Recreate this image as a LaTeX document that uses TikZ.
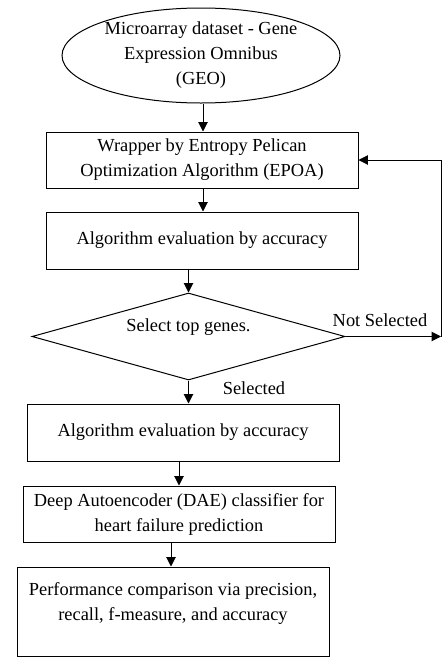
\documentclass[tikz,border=0pt]{standalone}
\usepackage{fontspec}
\setmainfont{Liberation Serif}
\usetikzlibrary{shapes.geometric,arrows.meta,calc}
\begin{document}
\begin{tikzpicture}[x=0.75pt,y=-0.75pt,
  every node/.style={font=\fontsize{13.8}{18.75}\selectfont},
  proc/.style={draw,line width=0.75pt,rectangle,minimum width=234pt,inner sep=0pt,align=center},
  arr/.style={line width=0.75pt,-{Triangle[length=7pt,width=7pt]}},
  lab/.style={inner sep=0pt}]
\useasboundingbox (0,0) rectangle (446,661);
\node[draw,line width=0.75pt,ellipse,minimum width=208.5pt,minimum height=71.25pt,inner sep=0pt,align=center] (geo) at (201,55.5) {Microarray dataset - Gene\\Expression Omnibus\\(GEO)};
\node[proc,minimum height=42pt] (wrap) at (202,160) {Wrapper by Entropy Pelican\\Optimization Algorithm (EPOA)};
\node[proc,minimum height=42.75pt] (eval1) at (202,240.5) {Algorithm evaluation by accuracy};
\node[draw,line width=0.75pt,diamond,minimum width=234.75pt,minimum height=65.25pt,inner sep=0pt,
  label={[yshift=7pt,inner sep=0pt]center:Select top genes.}] (dec) at (188.5,336.5) {};
\node[proc,minimum height=42.75pt] (eval2) at (183,432.5) {Algorithm evaluation by accuracy};
\node[proc,minimum height=42pt] (dae) at (179,514) {Deep Autoencoder (DAE) classifier for\\heart failure prediction};
\node[proc,minimum height=66.75pt,
  label={[anchor=north,yshift=-12pt,align=center,inner sep=0pt]north:Performance comparison via precision,\\recall, f-measure, and accuracy}] (perf) at (173,611.5) {};
\coordinate (corner) at (441,336.5);
\node[lab] (nsel) at (380,320) {Not Selected};
\node[lab] (sel) at (254,388) {Selected};
\draw[arr] (geo.south -| 203,0) -- (203,0 |- wrap.north);
\draw[arr] (wrap.south -| 203,0) -- (203,0 |- eval1.north);
\draw[arr] (eval1.south -| dec.north) -- (dec.north);
\draw[arr] (dec.south) -- (dec.south |- eval2.north);
\draw[arr] (eval2.south -| dae.north) -- (dae.north);
\draw[arr] (dae.south -| 171,0) -- (171,0 |- perf.north);
\draw[arr] (dec.east) -- (corner);
\draw[arr] (corner) |- (wrap.east);
\end{tikzpicture}
\end{document}
